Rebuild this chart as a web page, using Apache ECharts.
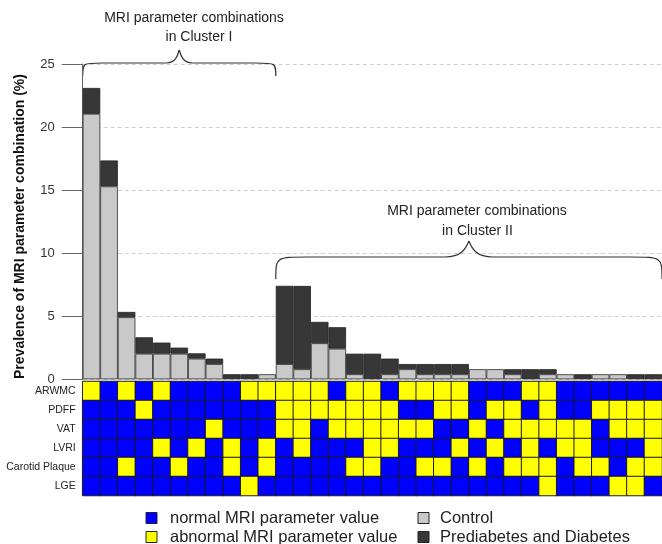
<!DOCTYPE html>
<html><head><meta charset="utf-8">
<script src="https://cdn.jsdelivr.net/npm/echarts@6/dist/echarts.min.js"></script>
<style>html,body{margin:0;padding:0;background:#fff}#c{width:662px;height:544px}</style>
</head><body><div id="c"></div>
<script>
// ---- data ----
const combos = Array.from({length: 33}, (_, i) => 'C' + (i + 1));
const control = [21.05, 15.3, 4.92, 2.03, 2.03, 2.03, 1.64, 1.21, 0, 0, 0.4,
  1.21, 0.8, 2.86, 2.43, 0.4, 0, 0.4, 0.8, 0.4, 0.4, 0.4, 0.8, 0.8, 0.4, 0, 0.4, 0.4, 0, 0.4, 0.4, 0, 0];
const prediabetes = [2.05, 2.05, 0.42, 1.3, 0.88, 0.48, 0.42, 0.43, 0.4, 0.4, 0,
  6.2, 6.6, 1.69, 1.7, 1.63, 2.03, 1.24, 0.41, 0.81, 0.81, 0.81, 0, 0, 0.4, 0.8, 0.4, 0, 0.4, 0, 0, 0.4, 0.4];
const rowLabels = ['ARWMC', 'PDFF', 'VAT', 'LVRI', 'Carotid Plaque', 'LGE'];
const ARWMC   = [1,0,1,0,1,0,0,0,0,1,1,1,1,1,0,1,1,0,1,1,1,1,0,0,0,1,1,0,0,0,0,0,0];
const PDFF    = [0,0,0,1,0,0,0,0,0,0,0,1,1,1,1,1,1,1,0,0,1,1,0,1,1,0,1,0,0,1,1,1,1];
const VAT     = [0,0,0,0,0,0,0,1,0,0,0,1,1,0,1,1,1,1,1,1,0,0,1,0,1,1,1,1,1,0,1,1,1];
const LVRI    = [0,0,0,0,1,0,1,0,1,0,1,0,1,0,0,0,1,1,0,0,0,1,0,1,0,1,0,1,1,0,0,0,1];
const Carotid = [0,0,1,0,0,1,0,0,1,0,1,0,0,0,0,1,1,0,0,1,1,0,1,0,1,1,1,0,1,1,0,1,1];
const LGE     = [0,0,0,0,0,0,0,0,0,1,0,0,0,0,0,0,0,0,0,0,0,0,0,0,0,0,1,0,0,0,1,1,0];
const clusterI = [0, 10];
const clusterII = [11, 32];
const yMin = 0, yMax = 25, yStep = 5;

// ---- build ----
const FONT = '"Liberation Sans", Arial, Helvetica, sans-serif';
const matrix = [ARWMC, PDFF, VAT, LVRI, Carotid, LGE];
const heat = [];
matrix.forEach((row, r) => row.forEach((v, c) => heat.push([c, r, v])));
const nz = a => a.map(v => v === 0 ? '-' : v);

const chart = echarts.init(document.getElementById('c'), null, {renderer: 'canvas'});
chart.setOption({
  animation: false,
  backgroundColor: '#fff',
  textStyle: {fontFamily: FONT},
  grid: [
    {left: 82.7, top: 64, width: 581, height: 315.3},
    {left: 82.7, top: 381.5, width: 581, height: 114}
  ],
  xAxis: [
    {type: 'category', gridIndex: 0, data: combos, show: false},
    {type: 'category', gridIndex: 1, data: combos, show: false}
  ],
  yAxis: [
    {type: 'value', gridIndex: 0, min: yMin, max: yMax, interval: yStep,
     axisLine: {show: true, lineStyle: {color: '#666', width: 1}},
     axisTick: {show: true, length: 21, lineStyle: {color: '#666', width: 1}},
     axisLabel: {fontSize: 13, color: '#333', margin: 28, fontFamily: FONT},
     splitLine: {show: true, lineStyle: {color: '#cfcfcf', type: [4, 3], width: 1}}},
    {type: 'category', gridIndex: 1, data: rowLabels, inverse: true,
     axisLine: {show: false}, axisTick: {show: false}, splitLine: {show: false},
     axisLabel: {fontSize: 10.5, color: '#222', margin: 7, fontFamily: FONT}}
  ],
  visualMap: {type: 'piecewise', show: false, seriesIndex: 2, dimension: 2,
    pieces: [{value: 0, color: '#0000ff'}, {value: 1, color: '#ffff00'}]},
  series: [
    {name: 'Control', type: 'bar', stack: 'a', xAxisIndex: 0, yAxisIndex: 0,
     data: nz(control), barCategoryGap: '0%',
     itemStyle: {color: '#c9c9c9', borderColor: '#2a2a2a', borderWidth: 0.8}},
    {name: 'Prediabetes and Diabetes', type: 'bar', stack: 'a', xAxisIndex: 0, yAxisIndex: 0,
     data: nz(prediabetes), barCategoryGap: '0%',
     itemStyle: {color: '#373737', borderColor: '#222', borderWidth: 0.8}},
    {name: 'MRI', type: 'heatmap', xAxisIndex: 1, yAxisIndex: 1, data: heat,
     itemStyle: {borderColor: '#1a1a1a', borderWidth: 1}}
  ]
});

// ---- annotations ----
const px = i => chart.convertToPixel({xAxisIndex: 0}, i);
const bw = px(1) - px(0);
const LS = {fill: 'none', stroke: '#333', lineWidth: 1.2};
const bez = (x1, y1, cx1, cy1, cx2, cy2, x2, y2) => ({type: 'bezierCurve', silent: true,
  shape: {x1, y1, cpx1: cx1, cpy1: cy1, cpx2: cx2, cpy2: cy2, x2, y2}, style: LS});
const seg = (x1, y1, x2, y2) => ({type: 'line', silent: true, shape: {x1, y1, x2, y2}, style: LS});
function brace(x0, x1, yEnd, yH, yCusp, rx, rc) {
  const xc = (x0 + x1) / 2;
  const m = yCusp + (yH - yCusp) * 0.45;
  return [
    bez(x0, yEnd, x0, yH, x0, yH, x0 + rx, yH),
    seg(x0 + rx, yH, xc - rc, yH),
    bez(xc - rc, yH, xc - rc * 0.3, yH, xc - rc * 0.12, m, xc, yCusp),
    bez(xc, yCusp, xc + rc * 0.12, m, xc + rc * 0.3, yH, xc + rc, yH),
    seg(xc + rc, yH, x1 - rx, yH),
    bez(x1 - rx, yH, x1, yH, x1, yH, x1, yEnd)
  ];
}
const b1x0 = px(clusterI[0]) - bw / 2, b1x1 = px(clusterI[1]) + bw / 2;
const b2x0 = px(clusterII[0]) - bw / 2, b2x1 = px(clusterII[1]) + bw / 2;
const txt = (text, x, y, size, extra) => ({
  type: 'text', x, y, silent: true,
  style: Object.assign({text, fontSize: size, fontFamily: FONT, fill: '#222',
    align: 'center', verticalAlign: 'middle'}, extra || {})
});
const box = (x, y, color) => ({type: 'rect', silent: true,
  shape: {x, y, width: 11, height: 11},
  style: {fill: color, stroke: '#222', lineWidth: 1}});

const ylab = txt('Prevalence of MRI parameter combination (%)', 20, 226.5, 14,
  {fontWeight: 'bold', fill: '#111'});
ylab.rotation = Math.PI / 2;

chart.setOption({
  graphic: [].concat(
    brace(b1x0, b1x1, 76, 63, 50, 20, 13),
    brace(b2x0, b2x1, 279, 257, 241, 32, 24),
    [
      txt('MRI parameter combinations', 194, 18.5, 14),
      txt('in Cluster I', 199, 37.5, 14),
      txt('MRI parameter combinations', 477, 211, 14),
      txt('in Cluster II', 477.5, 231, 14),
      ylab,
      box(146, 512.5, '#0000ff'),
      box(146, 531.5, '#ffff00'),
      box(418, 512.5, '#c9c9c9'),
      box(418, 531.5, '#373737'),
      txt('normal MRI parameter value', 170, 518, 16.5, {align: 'left'}),
      txt('abnormal MRI parameter value', 170, 537, 16.5, {align: 'left'}),
      txt('Control', 440, 518, 16.5, {align: 'left'}),
      txt('Prediabetes and Diabetes', 440, 537, 16.5, {align: 'left'})
    ])
});
</script></body></html>
